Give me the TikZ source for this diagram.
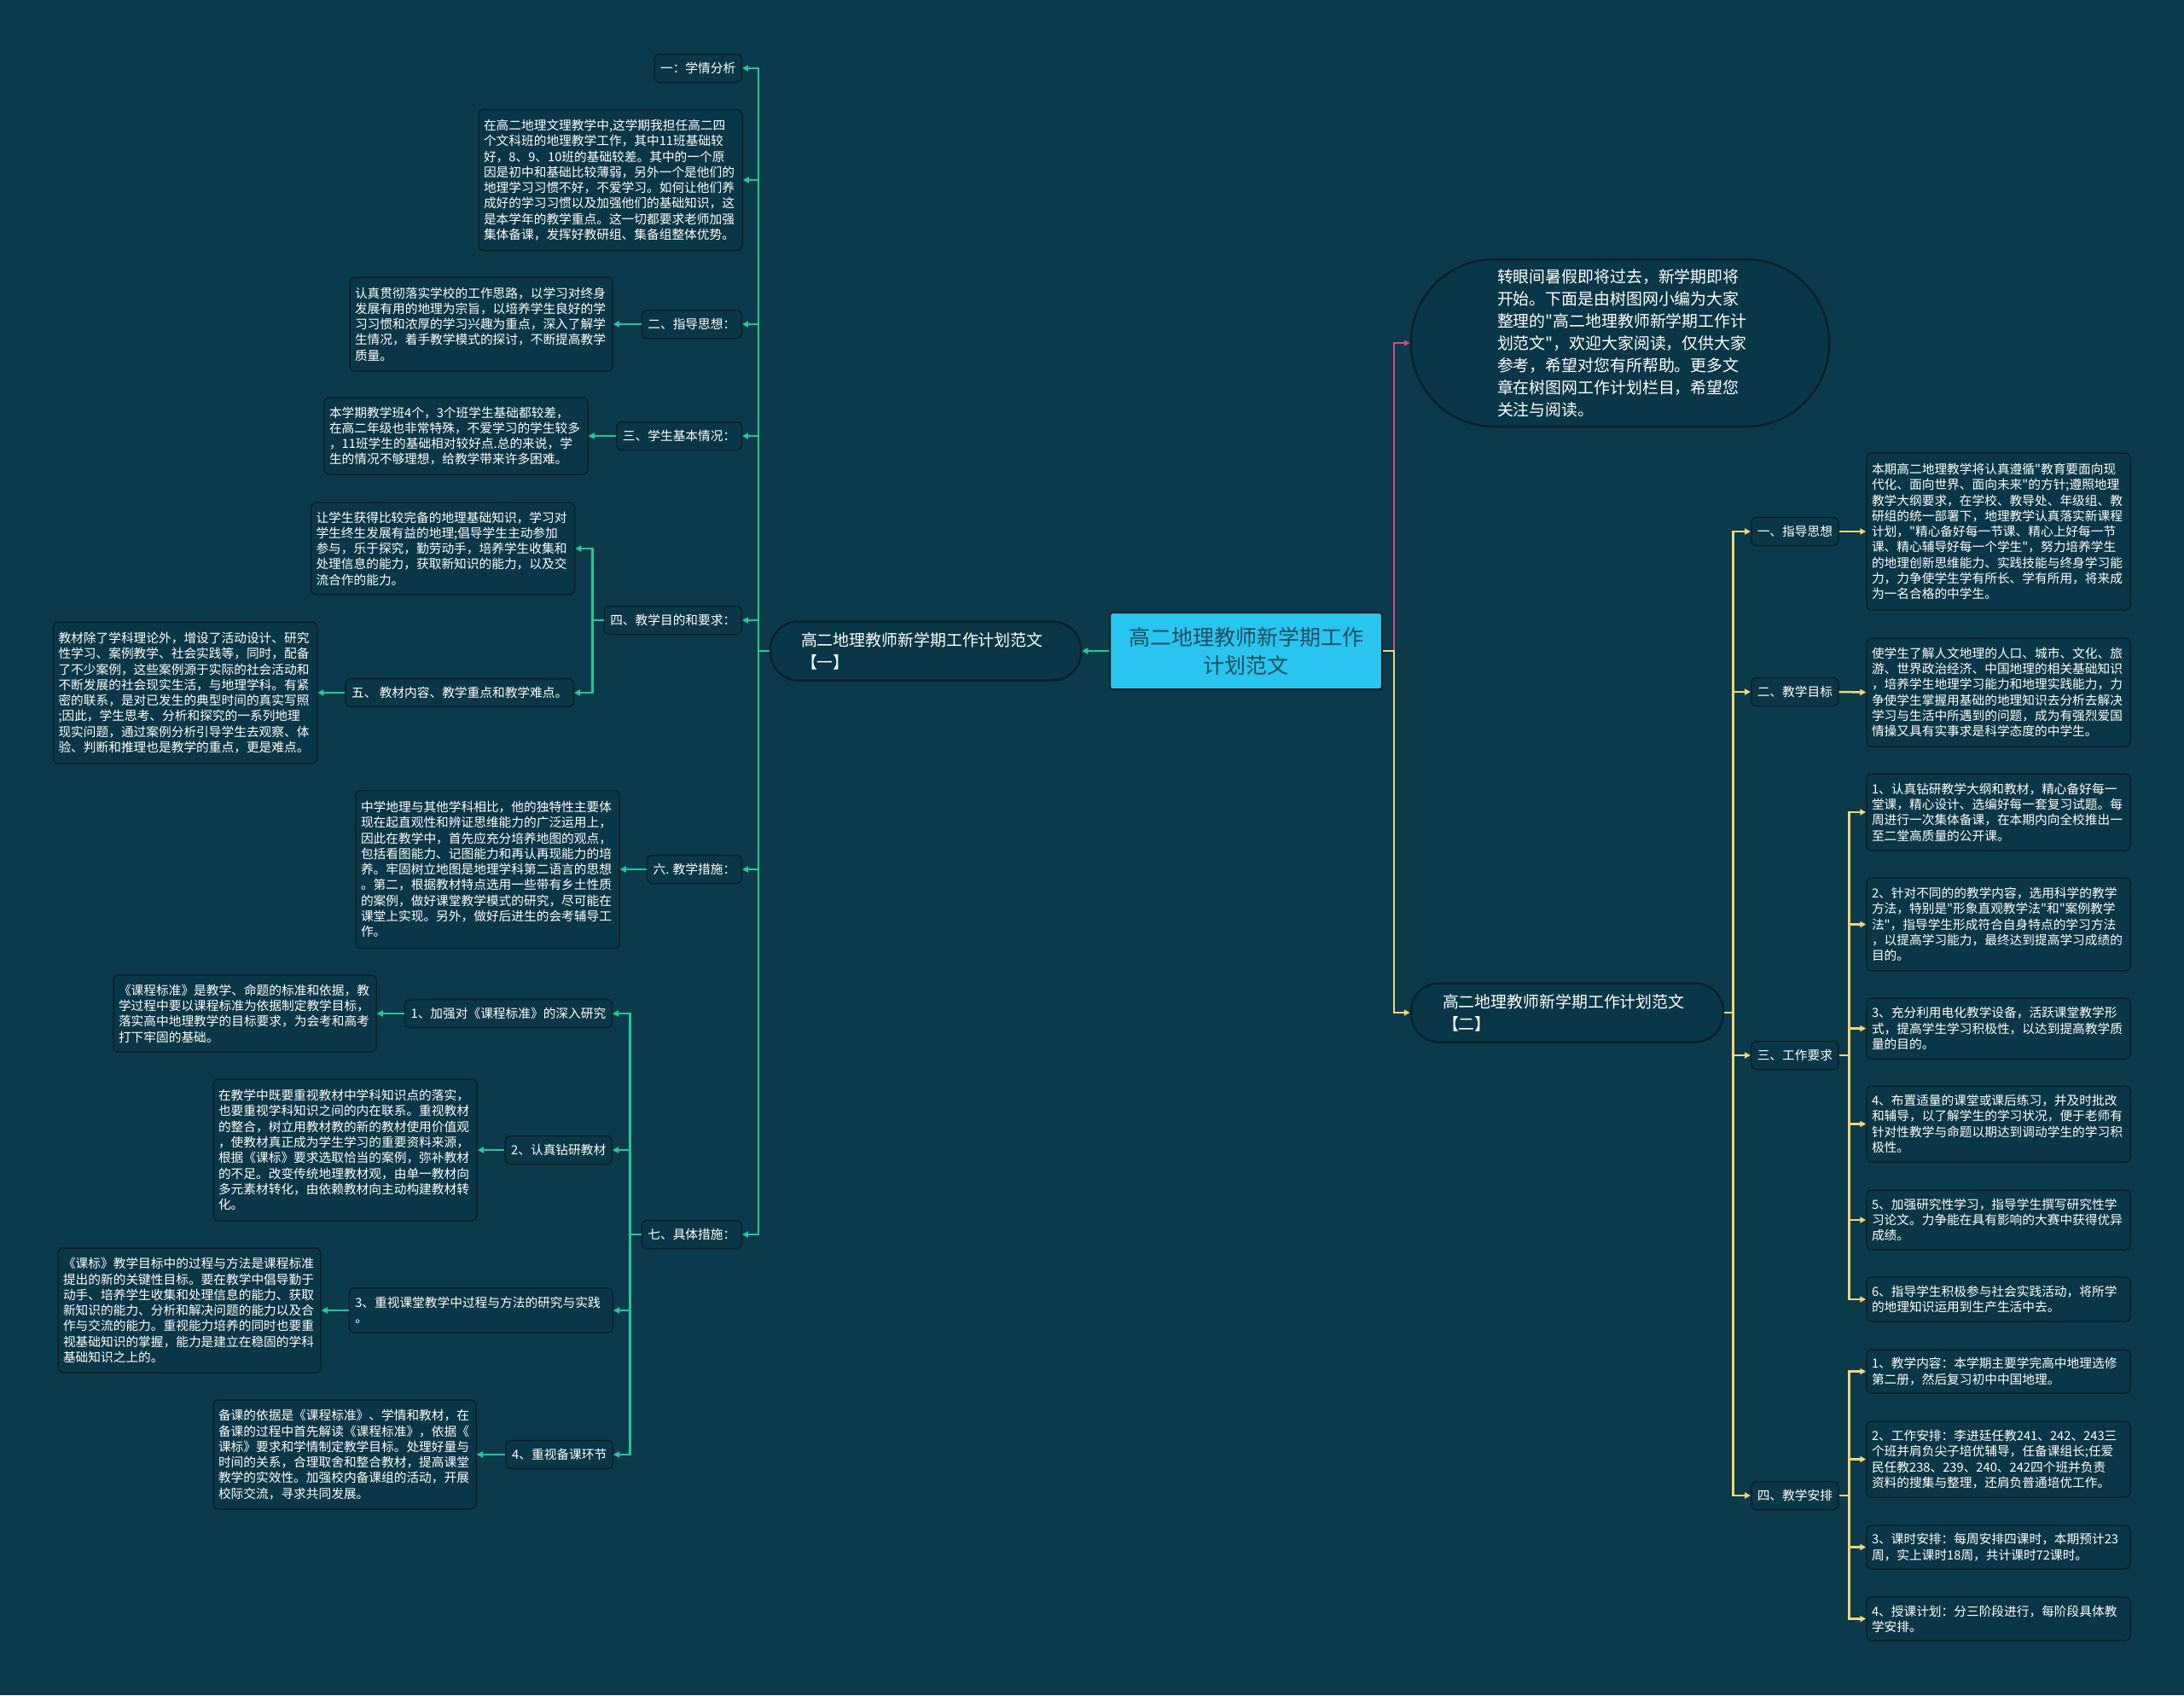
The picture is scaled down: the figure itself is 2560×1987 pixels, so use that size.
\documentclass[tikz,border=0pt]{standalone}
\usepackage{fontspec}
\newfontfamily\cjk{Noto Sans CJK SC}
\usetikzlibrary{arrows.meta}
\definecolor{mBg}{RGB}{11,58,75}
\definecolor{mBox}{RGB}{10,55,71}
\definecolor{mBorder}{RGB}{12,32,40}
\definecolor{mTeal}{RGB}{38,200,155}
\definecolor{mYel}{RGB}{240,214,120}
\definecolor{mPink}{RGB}{214,72,122}
\definecolor{mCyan}{RGB}{42,196,240}
\definecolor{mCText}{RGB}{30,78,96}
\newcommand\fsm{\cjk\fontsize{14.7}{18.3}\selectfont}
\newcommand\fbr{\cjk\fontsize{18.9}{26}\selectfont}
\newcommand\fct{\cjk\fontsize{25}{33}\selectfont}
\tikzset{
  tbox/.style={draw=mBorder, fill=mBox, line width=1.5pt, rounded corners=6pt, text=white, font=\fsm, align=left, inner xsep=6pt, inner ysep=0pt},
  lbox/.style={draw=mBorder, fill=mBox, line width=1.5pt, rounded corners=6pt, text=white, font=\fsm, inner xsep=7pt, inner ysep=0pt, minimum height=33pt},
  bnode/.style={draw=mBorder, fill=mBox, line width=2.5pt, rounded corners=33pt, text=white, font=\fbr, align=left, inner sep=0pt, minimum height=69pt},
  tlc/.style={draw=mTeal, line width=2.5pt, -{Triangle[length=7pt,width=7pt]}},
  ylc/.style={draw=mYel, line width=2.5pt, -{Triangle[length=7pt,width=7pt]}},
  pkc/.style={draw=mPink, line width=2.5pt, -{Triangle[length=7pt,width=7pt]}},
}
\begin{document}
\begin{tikzpicture}[x=1pt,y=-1pt]
\fill[mBg] (0,0) rectangle (2560,1987);
\useasboundingbox (0,0) rectangle (2560,1987);

% central
\node[draw=mBorder, fill=mCyan, line width=2pt, rounded corners=3pt, minimum width=319pt, minimum height=90pt, text=mCText, font=\fct, align=center, inner sep=0pt] (c) at (1460.5,763) {高二地理教师新学期工作\\计划范文};

% intro
\node[draw=mBorder, fill=mBox, line width=2.5pt, rounded corners=97pt, minimum width=490pt, minimum height=196pt, text=white, font=\fbr, align=left, text width=288pt, inner sep=0pt] (intro) at (1899,402) {转眼间暑假即将过去，新学期即将\\开始。下面是由树图网小编为大家\\整理的"高二地理教师新学期工作计\\划范文"，欢迎大家阅读，仅供大家\\参考，希望对您有所帮助。更多文\\章在树图网工作计划栏目，希望您\\关注与阅读。};

% branches
\node[bnode, minimum width=364pt, text width=292pt] (b1) at (1085,763) {高二地理教师新学期工作计划范文\\【一】};
\node[bnode, minimum width=366pt, text width=292pt] (b2) at (1837,1187) {高二地理教师新学期工作计划范文\\【二】};

% ---------- left side ----------
\node[lbox, anchor=east] (l1) at (870,80) {一：学情分析};
\node[tbox, text width=297pt, minimum height=165pt] (tA) at (715.5,211) {在高二地理文理教学中,这学期我担任高二四\\个文科班的地理教学工作，其中11班基础较\\好，8、9、10班的基础较差。其中的一个原\\因是初中和基础比较薄弱，另外一个是他们的\\地理学习习惯不好，不爱学习。如何让他们养\\成好的学习习惯以及加强他们的基础知识，这\\是本学年的教学重点。这一切都要求老师加强\\集体备课，发挥好教研组、集备组整体优势。};

\node[lbox, anchor=east] (l2) at (870,380) {二、指导思想：};
\node[tbox, text width=296pt, minimum height=110pt] (t2) at (564,380) {认真贯彻落实学校的工作思路，以学习对终身\\发展有用的地理为宗旨，以培养学生良好的学\\习习惯和浓厚的学习兴趣为重点，深入了解学\\生情况，着手教学模式的探讨，不断提高教学\\质量。};

\node[lbox, anchor=east] (l3) at (870,511) {三、学生基本情况：};
\node[tbox, text width=297pt, minimum height=90pt] (t3) at (534.5,511) {本学期教学班4个，3个班学生基础都较差，\\在高二年级也非常特殊，不爱学习的学生较多\\，11班学生的基础相对较好点.总的来说，学\\生的情况不够理想，给教学带来许多困难。};

\node[lbox, anchor=east] (l4) at (870,727) {四、教学目的和要求：};
\node[tbox, text width=297pt, minimum height=108pt] (t4a) at (519,643) {让学生获得比较完备的地理基础知识，学习对\\学生终生发展有益的地理;倡导学生主动参加\\参与，乐于探究，勤劳动手，培养学生收集和\\处理信息的能力，获取新知识的能力，以及交\\流合作的能力。};
\node[lbox, anchor=east] (l5) at (673,812) {五、 教材内容、教学重点和教学难点。};
\node[tbox, text width=297pt, minimum height=166pt] (t5) at (217,812) {教材除了学科理论外，增设了活动设计、研究\\性学习、案例教学、社会实践等，同时，配备\\了不少案例，这些案例源于实际的社会活动和\\不断发展的社会现实生活，与地理学科。有紧\\密的联系，是对已发生的典型时间的真实写照\\;因此，学生思考、分析和探究的一系列地理\\现实问题，通过案例分析引导学生去观察、体\\验、判断和推理也是教学的重点，更是难点。};

\node[lbox, anchor=east] (l6) at (870,1019) {六. 教学措施：};
\node[tbox, text width=297pt, minimum height=185pt] (t6) at (571.5,1019) {中学地理与其他学科相比，他的独特性主要体\\现在起直观性和辨证思维能力的广泛运用上，\\因此在教学中，首先应充分培养地图的观点，\\包括看图能力、记图能力和再认再现能力的培\\养。牢固树立地图是地理学科第二语言的思想\\。第二，根据教材特点选用一些带有乡土性质\\的案例，做好课堂教学模式的研究，尽可能在\\课堂上实现。另外，做好后进生的会考辅导工\\作。};

\node[lbox, anchor=east] (l7) at (870,1447) {七、具体措施：};
\node[lbox, anchor=east] (l71) at (718,1188) {1、加强对《课程标准》的深入研究};
\node[tbox, text width=296pt, minimum height=90pt] (t71) at (287,1188) {《课程标准》是教学、命题的标准和依据，教\\学过程中要以课程标准为依据制定教学目标，\\落实高中地理教学的目标要求，为会考和高考\\打下牢固的基础。};
\node[lbox, anchor=east] (l72) at (718,1348) {2、认真钻研教材};
\node[tbox, text width=297pt, minimum height=166pt] (t72) at (404.5,1348) {在教学中既要重视教材中学科知识点的落实，\\也要重视学科知识之间的内在联系。重视教材\\的整合，树立用教材教的新的教材使用价值观\\，使教材真正成为学生学习的重要资料来源，\\根据《课标》要求选取恰当的案例，弥补教材\\的不足。改变传统地理教材观，由单一教材向\\多元素材转化，由依赖教材向主动构建教材转\\化。};
\node[lbox, anchor=east, align=left, text width=295pt, minimum height=52pt] (l73) at (719,1536) {3、重视课堂教学中过程与方法的研究与实践\\。};
\node[tbox, text width=296pt, minimum height=146pt] (t73) at (222,1536) {《课标》教学目标中的过程与方法是课程标准\\提出的新的关键性目标。要在教学中倡导勤于\\动手、培养学生收集和处理信息的能力、获取\\新知识的能力、分析和解决问题的能力以及合\\作与交流的能力。重视能力培养的同时也要重\\视基础知识的掌握，能力是建立在稳固的学科\\基础知识之上的。};
\node[lbox, anchor=east] (l74) at (719,1705) {4、重视备课环节};
\node[tbox, text width=296pt, minimum height=128pt] (t74) at (404,1705) {备课的依据是《课程标准》、学情和教材，在\\备课的过程中首先解读《课程标准》，依据《\\课标》要求和学情制定教学目标。处理好量与\\时间的关系，合理取舍和整合教材，提高课堂\\教学的实效性。加强校内备课组的活动，开展\\校际交流，寻求共同发展。};

% ---------- right side ----------
\node[lbox, anchor=west] (r1) at (2052,623) {一、指导思想};
\node[tbox, text width=297pt, minimum height=184pt] (rt1) at (2342.5,623) {本期高二地理教学将认真遵循"教育要面向现\\代化、面向世界、面向未来"的方针;遵照地理\\教学大纲要求，在学校、教导处、年级组、教\\研组的统一部署下，地理教学认真落实新课程\\计划，"精心备好每一节课、精心上好每一节\\课、精心辅导好每一个学生"，努力培养学生\\的地理创新思维能力、实践技能与终身学习能\\力，力争使学生学有所长、学有所用，将来成\\为一名合格的中学生。};
\node[lbox, anchor=west] (r2) at (2052,811) {二、教学目标};
\node[tbox, text width=297pt, minimum height=127pt] (rt2) at (2342.5,811.5) {使学生了解人文地理的人口、城市、文化、旅\\游、世界政治经济、中国地理的相关基础知识\\，培养学生地理学习能力和地理实践能力，力\\争使学生掌握用基础的地理知识去分析去解决\\学习与生活中所遇到的问题，成为有强烈爱国\\情操又具有实事求是科学态度的中学生。};
\node[lbox, anchor=west] (r3) at (2052,1237) {三、工作要求};
\node[tbox, text width=297pt, minimum height=90pt] (r3a) at (2342.5,952) {1、认真钻研教学大纲和教材，精心备好每一\\堂课，精心设计、选编好每一套复习试题。每\\周进行一次集体备课，在本期内向全校推出一\\至二堂高质量的公开课。};
\node[tbox, text width=297pt, minimum height=109pt] (r3b) at (2342.5,1083.5) {2、针对不同的的教学内容，选用科学的教学\\方法，特别是"形象直观教学法"和"案例教学\\法"，指导学生形成符合自身特点的学习方法\\，以提高学习能力，最终达到提高学习成绩的\\目的。};
\node[tbox, text width=297pt, minimum height=71pt] (r3c) at (2342.5,1205.5) {3、充分利用电化教学设备，活跃课堂教学形\\式，提高学生学习积极性，以达到提高教学质\\量的目的。};
\node[tbox, text width=297pt, minimum height=89pt] (r3d) at (2342.5,1317.5) {4、布置适量的课堂或课后练习，并及时批改\\和辅导，以了解学生的学习状况，便于老师有\\针对性教学与命题以期达到调动学生的学习积\\极性。};
\node[tbox, text width=297pt, minimum height=70pt] (r3e) at (2342.5,1430) {5、加强研究性学习，指导学生撰写研究性学\\习论文。力争能在具有影响的大赛中获得优异\\成绩。};
\node[tbox, text width=297pt, minimum height=52pt] (r3f) at (2342.5,1523) {6、指导学生积极参与社会实践活动，将所学\\的地理知识运用到生产生活中去。};
\node[lbox, anchor=west] (r4) at (2052,1753) {四、教学安排};
\node[tbox, text width=297pt, minimum height=51pt] (r4a) at (2342.5,1607.5) {1、教学内容：本学期主要学完高中地理选修\\第二册，然后复习初中中国地理。};
\node[tbox, text width=297pt, minimum height=89pt] (r4b) at (2342.5,1710.5) {2、工作安排：李进廷任教241、242、243三\\个班并肩负尖子培优辅导，任备课组长;任爱\\民任教238、239、240、242四个班并负责\\资料的搜集与整理，还肩负普通培优工作。};
\node[tbox, text width=297pt, minimum height=51pt] (r4c) at (2342.5,1813.5) {3、课时安排：每周安排四课时，本期预计23\\周，实上课时18周，共计课时72课时。};
\node[tbox, text width=297pt, minimum height=51pt] (r4d) at (2342.5,1897.5) {4、授课计划：分三阶段进行，每阶段具体教\\学安排。};

% ---------- connectors ----------
\draw[pkc] (c.east) -- ++(13,0) |- (intro.west);
\draw[ylc] (c.east) -- ++(13,0) |- (b2.west);
\draw[tlc] (c.west) -- (b1.east);

\foreach \n in {l1,tA,l2,l3,l4,l6,l7} \draw[tlc] (b1.west) -- ++(-13,0) |- (\n.east);
\draw[tlc] (l2.west) -- (t2.east);
\draw[tlc] (l3.west) -- (t3.east);
\foreach \n in {t4a,l5} \draw[tlc] (l4.west) -- ++(-13,0) |- (\n.east);
\draw[tlc] (l5.west) -- (t5.east);
\draw[tlc] (l6.west) -- (t6.east);
\foreach \n in {l71,l72,l73,l74} \draw[tlc] (l7.west) -- ++(-13,0) |- (\n.east);
\draw[tlc] (l71.west) -- (t71.east);
\draw[tlc] (l72.west) -- (t72.east);
\draw[tlc] (l73.west) -- (t73.east);
\draw[tlc] (l74.west) -- (t74.east);

\foreach \n in {r1,r2,r3,r4} \draw[ylc] (b2.east) -- ++(10,0) |- (\n.west);
\draw[ylc] (r1.east) -- (rt1.west);
\draw[ylc] (r2.east) -- (rt2.west);
\foreach \n in {r3a,r3b,r3c,r3d,r3e,r3f} \draw[ylc] (r3.east) -- ++(12,0) |- (\n.west);
\foreach \n in {r4a,r4b,r4c,r4d} \draw[ylc] (r4.east) -- ++(12,0) |- (\n.west);
\end{tikzpicture}
\end{document}
